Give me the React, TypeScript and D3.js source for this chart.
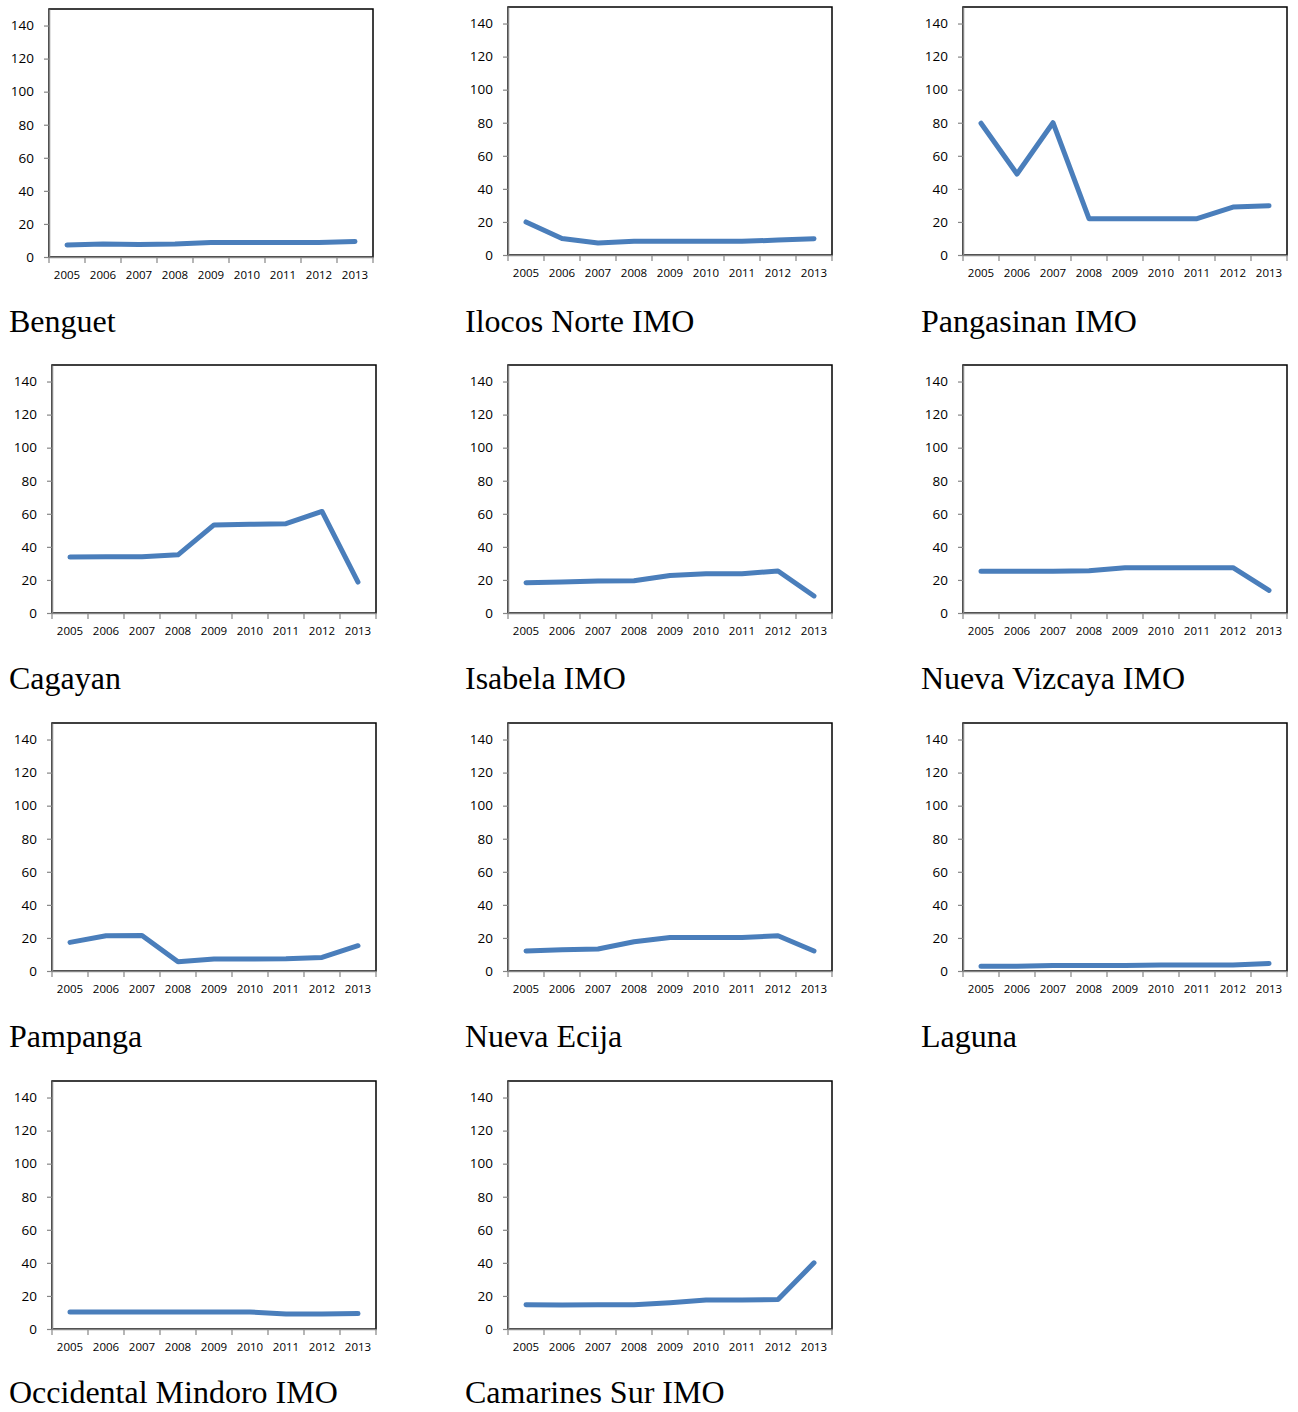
import React, { useEffect, useRef } from 'react';
import * as d3 from 'd3';

const years = ['2005', '2006', '2007', '2008', '2009', '2010', '2011', '2012', '2013'];
const yTicks = [0, 20, 40, 60, 80, 100, 120, 140];

const benguet = [7.3, 7.8, 7.5, 7.8, 8.7, 8.7, 8.7, 8.7, 9.4];
const ilocosNorte = [20, 10, 7.2, 8.3, 8.3, 8.3, 8.3, 9, 9.9];
const pangasinan = [79.7, 49, 80, 22, 22, 22, 22, 29, 29.8];
const cagayan = [33.8, 34, 34, 35.2, 53.3, 53.7, 54, 61.4, 18.7];
const isabela = [18.3, 18.8, 19.3, 19.5, 22.7, 23.7, 23.7, 25.4, 10.3];
const nuevaVizcaya = [25.2, 25.2, 25.2, 25.6, 27.4, 27.4, 27.4, 27.4, 13.7];
const pampanga = [17.3, 21.3, 21.5, 5.6, 7.2, 7.2, 7.4, 8.2, 15.3];
const nuevaEcija = [12.1, 12.9, 13.3, 17.7, 20.3, 20.3, 20.3, 21.3, 12.1];
const laguna = [2.8, 2.8, 3.4, 3.4, 3.4, 3.6, 3.6, 3.6, 4.6];
const occidentalMindoro = [10.3, 10.3, 10.3, 10.3, 10.3, 10.3, 9, 9, 9.3];
const camarinesSur = [14.7, 14.5, 14.7, 14.7, 15.9, 17.5, 17.5, 17.9, 40];

const titles = [
  'Benguet', 'Ilocos Norte IMO', 'Pangasinan IMO',
  'Cagayan', 'Isabela IMO', 'Nueva Vizcaya IMO',
  'Pampanga', 'Nueva Ecija', 'Laguna',
  'Occidental Mindoro IMO', 'Camarines Sur IMO',
];
const series = [
  benguet, ilocosNorte, pangasinan,
  cagayan, isabela, nuevaVizcaya,
  pampanga, nuevaEcija, laguna,
  occidentalMindoro, camarinesSur,
];

// plot area placement: left, top, bottom for each panel
const panels = [
  { left: 49, top: 9, bottom: 257 },
  { left: 508, top: 7, bottom: 255 },
  { left: 963, top: 7, bottom: 255 },
  { left: 52, top: 365, bottom: 613 },
  { left: 508, top: 365, bottom: 613 },
  { left: 963, top: 365, bottom: 613 },
  { left: 52, top: 723, bottom: 971 },
  { left: 508, top: 723, bottom: 971 },
  { left: 963, top: 723, bottom: 971 },
  { left: 52, top: 1081, bottom: 1329 },
  { left: 508, top: 1081, bottom: 1329 },
];
const titleX = [9, 465, 921];
const titleY = [332, 689, 1047, 1403];

const W = 1298;
const H = 1412;
const plotW = 324;

export default function App() {
  const ref = useRef<SVGSVGElement>(null);

  useEffect(() => {
    const svg = d3.select(ref.current);
    svg.selectAll('*').remove();

    series.forEach((values, i) => {
      const p = panels[i];
      const g = svg.append('g').attr('transform', `translate(${p.left},${p.top})`);
      const h = p.bottom - p.top;

      const x = d3.scaleBand().domain(years).range([0, plotW]).padding(0);
      const y = d3.scaleLinear().domain([0, 150]).range([h, 0]);

      // frame
      g.append('rect')
        .attr('x', 0)
        .attr('y', 0)
        .attr('width', plotW)
        .attr('height', h)
        .attr('fill', 'white')
        .attr('stroke', '#000')
        .attr('stroke-width', 1.5);

      // y axis
      const yAxis = g
        .append('g')
        .call(
          d3.axisLeft(y).tickValues(yTicks).tickSize(5).tickPadding(10).tickSizeOuter(0),
        );
      yAxis.select('.domain').attr('stroke', '#868686').attr('stroke-width', 1.5);
      yAxis.selectAll('.tick line').attr('stroke', '#868686').attr('stroke-width', 1.2);
      yAxis
        .selectAll('text')
        .attr('fill', '#000')
        .style('font-family', '"Open Sans", sans-serif')
        .style('font-size', '13.5px');

      // x axis
      const xAxis = g
        .append('g')
        .attr('transform', `translate(0,${h})`)
        .call(d3.axisBottom(x).tickSize(0).tickPadding(13.5).tickSizeOuter(0));
      xAxis.select('.domain').attr('stroke', '#868686').attr('stroke-width', 1.5);
      xAxis
        .selectAll('text')
        .attr('fill', '#000')
        .style('font-family', '"Open Sans", sans-serif')
        .style('font-size', '11.5px');
      xAxis
        .selectAll('.boundary')
        .data([...years.map((d) => x(d)!), plotW])
        .enter()
        .append('line')
        .attr('class', 'boundary')
        .attr('x1', (d) => d)
        .attr('x2', (d) => d)
        .attr('y1', 0)
        .attr('y2', 6)
        .attr('stroke', '#868686')
        .attr('stroke-width', 1.2);

      const line = d3
        .line<number>()
        .x((_, j) => x(years[j])! + x.bandwidth() / 2)
        .y((d) => y(d));

      g.append('path')
        .datum(values)
        .attr('d', line)
        .attr('fill', 'none')
        .attr('stroke', '#4a7ebb')
        .attr('stroke-width', 5)
        .attr('stroke-linejoin', 'round')
        .attr('stroke-linecap', 'round');

      svg
        .append('text')
        .attr('x', titleX[i % 3])
        .attr('y', titleY[Math.floor(i / 3)])
        .style('font-family', '"Liberation Serif", "Times New Roman", serif')
        .style('font-size', '32px')
        .attr('fill', '#000')
        .text(titles[i]);
    });
  }, []);

  return (
    <svg
      ref={ref}
      width={W}
      height={H}
      viewBox={`0 0 ${W} ${H}`}
      style={{ position: 'absolute', left: 0, top: 0, background: 'white' }}
    />
  );
}
